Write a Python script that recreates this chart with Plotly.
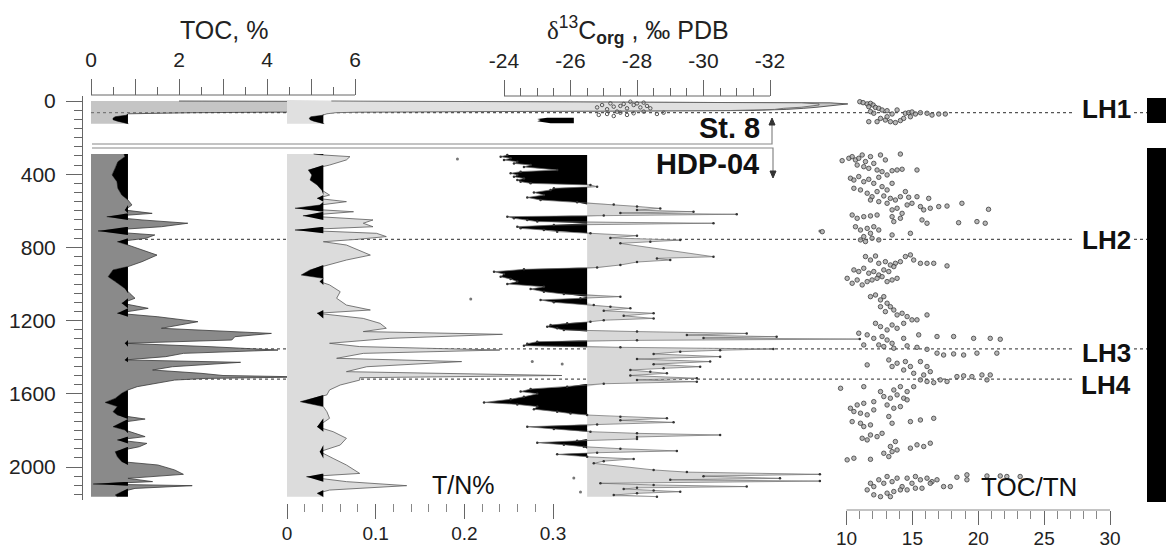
import plotly.graph_objects as go

W, H = 1166, 552

# ---------------- data (depth in cm) ----------------
# HDP-04 TOC, %
toc_depth = [290, 304, 332, 368, 404, 441, 477, 514, 541, 568,
             596, 614, 632, 650, 668, 687, 710, 732, 750, 769,
             787, 842, 878, 905, 923, 960, 987, 1024, 1051, 1078,
             1105, 1133, 1160, 1179, 1206, 1242, 1270, 1288, 1306, 1324,
             1343, 1361, 1379, 1397, 1415, 1428, 1452, 1470, 1488, 1500,
             1508, 1516, 1525, 1543, 1561, 1579, 1597, 1625, 1647, 1670,
             1698, 1716, 1738, 1756, 1780, 1798, 1816, 1834, 1852, 1871,
             1889, 1916, 1944, 1971, 1989, 2016, 2040, 2062, 2080, 2093,
             2102, 2117, 2135, 2153, 2162]
toc_vals = [0.75, 0.77, 0.61, 0.55, 0.48, 0.59, 0.61, 0.70, 0.84, 0.93,
            0.77, 1.39, 0.36, 1.16, 2.2, 1.6, 0.16, 1.45, 1.25, 0.6,
            0.84, 1.5, 1.16, 0.84, 0.5, 0.39, 0.55, 0.77, 0.88, 1.0,
            0.7, 1.3, 0.6, 1.52, 2.43, 1.6, 4.1, 3.27, 3.2, 0.77,
            2.75, 4.25, 2.1, 1.7, 0.77, 3.4, 1.85, 1.4, 2.5, 3.0,
            4.9, 2.6, 1.9, 1.5, 1.05, 0.84, 0.7, 0.55, 0.32, 0.6,
            0.5, 0.6, 1.23, 0.7, 0.5, 0.77, 1.0, 1.23, 0.6, 1.27,
            1.1, 0.55, 0.6, 0.7, 1.52, 1.9, 2.1, 0.84, 1.4, 0.05,
            2.3, 1.0, 0.7, 0.55, 0.6]
TOC_THR = 0.84

# HDP-04 T/N %
tn_depth = [290, 295, 304, 322, 350, 377, 404, 432, 459, 486,
            514, 532, 550, 568, 586, 605, 627, 650, 668, 687,
            705, 723, 741, 756, 769, 787, 842, 869, 896, 923,
            951, 969, 987, 1005, 1042, 1078, 1115, 1142, 1160, 1188,
            1215, 1242, 1260, 1275, 1297, 1324, 1342, 1361, 1379, 1406,
            1424, 1452, 1479, 1500, 1512, 1525, 1552, 1579, 1606, 1643,
            1670, 1698, 1734, 1780, 1807, 1843, 1880, 1916, 1953, 1989,
            2035, 2053, 2080, 2102, 2126, 2144, 2162]
tn_vals = [0.030, 0.041, 0.071, 0.067, 0.048, 0.024, 0.028, 0.026, 0.034, 0.039,
           0.048, 0.034, 0.067, 0.037, 0.009, 0.075, 0.018, 0.097, 0.086, 0.097,
           0.009, 0.101, 0.112, 0.079, 0.041, 0.067, 0.094, 0.067, 0.048, 0.026,
           0.016, 0.041, 0.037, 0.048, 0.060, 0.056, 0.067, 0.094, 0.034, 0.086,
           0.105, 0.112, 0.086, 0.243, 0.116, 0.048, 0.082, 0.240, 0.086, 0.056,
           0.197, 0.090, 0.067, 0.310, 0.082, 0.082, 0.060, 0.048, 0.045, 0.015,
           0.041, 0.045, 0.048, 0.034, 0.052, 0.067, 0.060, 0.037, 0.052, 0.067,
           0.082, 0.022, 0.067, 0.135, 0.048, 0.034, 0.041]
TN_THR = 0.041

# HDP-04 d13C org
d13c_depth = [295, 304, 313, 322, 332, 341, 350, 360, 377, 386,
              395, 404, 414, 423, 432, 441, 450, 459, 468, 477,
              486, 500, 514, 527, 541, 553, 565, 576, 587, 596,
              605, 612, 619, 625, 632, 641, 650, 659, 668, 678,
              687, 696, 705, 714, 723, 736, 748, 760, 769, 778,
              851, 860, 869, 880, 896, 910, 920, 933, 945, 960,
              973, 987, 1000, 1015, 1028, 1042, 1055, 1069, 1078, 1087,
              1100, 1115, 1124, 1133, 1146, 1160, 1174, 1188, 1198, 1206,
              1215, 1224, 1233, 1242, 1251, 1260, 1270, 1279, 1288, 1295,
              1301, 1308, 1315, 1326, 1337, 1346, 1355, 1362, 1370, 1382,
              1397, 1410, 1424, 1438, 1452, 1461, 1470, 1480, 1488, 1500,
              1515, 1524, 1534, 1545, 1561, 1574, 1588, 1600, 1616, 1630,
              1647, 1658, 1670, 1684, 1698, 1708, 1716, 1725, 1734, 1745,
              1756, 1768, 1780, 1792, 1807, 1816, 1825, 1836, 1847, 1857,
              1867, 1878, 1889, 1900, 1912, 1922, 1931, 1944, 1956, 1968,
              1980, 2016, 2028, 2040, 2050, 2062, 2070, 2077, 2089, 2098,
              2107, 2114, 2120, 2128, 2135, 2144, 2153, 2162]
d13c_vals = [-24.1, -23.9, -24.2, -24.0, -24.4, -24.3, -24.8, -24.6, -25.6, -24.5,
             -24.2, -24.4, -24.3, -24.6, -24.4, -24.5, -24.8, -26.6, -26.8, -25.5,
             -25.4, -24.9, -25.2, -24.7, -25.1, -26.2, -27.3, -28.0, -28.7, -28.0,
             -29.7, -27.5, -31.0, -27.0, -24.1, -24.3, -24.7, -25.0, -30.3, -25.5,
             -24.4, -24.5, -25.2, -25.6, -26.6, -28.0, -27.2, -29.3, -28.4, -27.5,
             -30.3, -28.6, -29.0, -28.0, -27.5, -26.8, -24.6, -23.7, -24.0, -23.9,
             -24.2, -24.4, -24.1, -25.2, -24.8, -25.2, -25.8, -27.5, -26.3, -25.1,
             -25.5, -26.7, -27.2, -27.8, -27.0, -28.5, -27.6, -28.5, -27.0, -26.6,
             -25.9, -25.4, -25.3, -25.6, -25.8, -28.0, -31.3, -29.5, -32.2, -30.0,
             -34.7, -28.0, -25.0, -24.7, -24.6, -27.5, -32.1, -30.5, -29.3, -28.5,
             -30.5, -28.0, -30.2, -28.5, -29.9, -28.8, -27.8, -28.4, -28.9, -27.8,
             -29.8, -28.0, -29.8, -27.0, -25.9, -24.8, -24.5, -25.0, -24.6, -24.2,
             -23.4, -24.4, -25.0, -24.9, -25.6, -26.0, -26.5, -27.5, -28.9, -27.5,
             -29.1, -26.8, -24.7, -25.5, -26.6, -28.0, -30.5, -28.0, -28.0, -26.2,
             -25.0, -25.8, -26.4, -27.5, -29.2, -26.8, -25.6, -26.5, -27.9, -27.0,
             -26.7, -28.5, -29.5, -33.5, -30.0, -32.3, -29.0, -33.5, -26.9, -28.5,
             -31.3, -28.0, -27.6, -28.5, -29.3, -28.0, -27.3, -28.6]
D13C_THR = -26.5
d13c_out_depth = [317, 710, 1082, 1424, 1437, 2060, 2136]
d13c_out_vals = [-22.6, -33.5, -23.0, -24.85, -25.75, -26.1, -26.3]

# St. 8 (upper core)
st8_depth = [0, 5, 10, 16, 22, 28, 34, 40, 46, 52, 57, 61, 64, 70, 78, 86, 94, 102, 110, 118, 124]
st8_toc = [2.0, 12.0, 16.8, 17.2, 17.0, 16.8, 16.5, 16.2, 15.8, 15.0, 4.3, 4.2, 2.3, 0.85, 0.8, 0.55, 0.5, 0.5, 0.6, 0.75, 0.85]
st8_tn = [0.05, 0.45, 0.58, 0.60, 0.60, 0.59, 0.58, 0.56, 0.55, 0.50, 0.12, 0.08, 0.055, 0.045, 0.040, 0.027, 0.025, 0.026, 0.030, 0.038, 0.042]
st8_d13c_depth = [35, 22, 45, 13, 31, 58, 27, 16, 40, 4, 22, 13, 35, 9, 27, 40, 76, 71, 82, 64, 76, 67, 58, 71, 64]
st8_d13c_vals = [-26.8, -26.95, -27.1, -27.2, -27.3, -27.4, -27.5, -27.6, -27.7, -27.8,
                 -27.9, -28.0, -28.1, -28.2, -28.3, -28.4, -26.85, -27.1, -27.3, -27.5,
                 -27.7, -27.9, -28.2, -28.6, -28.8]
st8_d13c_low_depth = [92, 98, 104, 110, 116, 122]
st8_d13c_low_vals = [-25.3, -25.0, -25.1, -25.0, -25.2, -25.4]
ST8_D13C_THR = -26.1
st8_tocn_depth = [4, 9, 16, 13, 22, 31, 35, 40, 49, 53, 58, 67, 113, 113, 104, 113, 118, 107,
                  67, 64, 60, 71, 64, 67, 77, 71, 71, 49, 71, 95, 86, 86, 95]
st8_tocn_ratio = [11.01, 11.26, 11.57, 11.82, 12.02, 11.69, 12.2, 12.45, 12.7, 13.08, 11.82, 12.07,
                  12.32, 11.69, 12.95, 13.33, 13.71, 14.09, 14.47, 14.72, 14.97, 15.23, 15.61, 16.11,
                  16.49, 17.0, 17.5, 13.84, 13.46, 14.34, 14.85, 13.08, 12.58]

# HDP-04 TOC/TN
tocn_depth = [326, 313, 304, 322, 313, 295, 331, 304, 341, 295,
              322, 290, 377, 350, 359, 368, 377, 386, 404, 381,
              377, 373, 422, 432, 413, 441, 428, 450, 417, 468,
              486, 450, 477, 486, 504, 523, 495, 519, 532, 541,
              523, 495, 526, 541, 550, 559, 595, 586, 614, 568,
              559, 523, 577, 595, 532, 586, 650, 668, 577, 574,
              559, 592, 632, 659, 641, 623, 641, 632, 628, 623,
              687, 705, 741, 696, 723, 687, 705, 759, 768, 750,
              759, 732, 723, 665, 659, 668, 714,
              850, 869, 847, 887, 878, 896, 887, 878, 850, 841,
              869, 887, 887, 887, 901, 923, 932, 914, 941, 932,
              951, 923, 932, 905, 969, 996, 978, 1005, 987, 978,
              969, 960, 987, 978, 969, 1069, 1060, 1087, 1069, 1105,
              1124, 1142, 1124, 1151, 1169, 1160, 1178, 1196, 1196, 1169,
              1215, 1233, 1251, 1224, 1242, 1215,
              1269, 1278, 1297, 1287, 1306, 1324, 1297, 1278, 1287, 1287,
              1297, 1297, 1302, 1333, 1333, 1342, 1351, 1338, 1346, 1357,
              1378, 1388, 1382, 1388, 1378, 1378, 1442, 1415, 1451, 1433,
              1424, 1451, 1424, 1451, 1488, 1497, 1479, 1470,
              1524, 1533, 1539, 1524, 1533, 1506, 1502, 1506, 1497, 1524,
              1497, 1570, 1561, 1588, 1579, 1561, 1588, 1561, 1615, 1624,
              1606, 1624, 1643, 1652, 1661, 1679, 1697, 1706, 1715, 1688,
              1661, 1679, 1670, 1633, 1752, 1761, 1779, 1770, 1724, 1761,
              1752, 1743, 1734, 1843, 1852, 1825, 1834, 1816, 1861, 1897,
              1879, 1888, 1870, 1961, 1952, 1958, 1925, 1943, 1916, 1907, 1888,
              2125, 2107, 2070, 2089, 2052, 2080, 2061, 2107, 2061, 2089,
              2052, 2070, 2061, 2080, 2070, 2152, 2162, 2143, 2134, 2125,
              2125, 2116, 2116, 2089, 2107, 2107, 2056, 2043, 2070, 2049,
              2049, 2052, 2052, 2089, 2162]
tocn_ratio = [9.67, 10.18, 10.43, 10.68, 10.93, 11.19, 11.44, 11.82, 12.07, 12.58,
              12.95, 14.09, 15.35, 10.81, 11.31, 11.69, 12.32, 12.7, 13.08, 13.46,
              13.84, 14.22, 10.3, 10.56, 10.93, 11.31, 11.69, 12.07, 12.45, 12.7,
              13.08, 13.46, 10.56, 11.06, 11.57, 11.94, 12.32, 12.83, 13.33, 13.71,
              14.09, 14.47, 14.72, 11.82, 12.45, 13.08, 13.46, 13.84, 14.22, 14.6,
              14.97, 15.35, 15.61, 15.86, 16.24, 16.36, 15.73, 16.11, 17.0, 17.63,
              18.76, 20.78, 13.46, 13.59, 14.09, 10.43, 10.81, 11.31, 11.82, 12.32,
              10.68, 11.06, 11.31, 11.57, 11.82, 12.07, 12.45, 11.06, 11.44, 11.94,
              12.45, 13.46, 14.85, 18.51, 19.9, 20.53, 8.16,
              11.44, 11.82, 12.2, 12.45, 12.95, 13.33, 13.71, 14.09, 14.47, 14.85,
              15.1, 15.61, 16.11, 16.62, 17.63, 10.56, 10.93, 11.31, 11.69, 12.07,
              12.45, 12.83, 13.21, 13.59, 10.05, 10.43, 10.81, 11.19, 11.57, 11.94,
              12.32, 12.7, 13.08, 13.46, 13.84, 11.82, 12.2, 12.58, 12.83, 13.08,
              13.33, 13.59, 12.58, 12.95, 13.84, 14.22, 14.6, 14.97, 15.35, 16.11,
              12.2, 12.58, 13.08, 13.46, 13.84, 14.34,
              10.93, 11.57, 12.07, 12.7, 13.08, 13.46, 14.34, 15.48, 16.87, 18.13,
              19.65, 20.91, 21.67, 11.31, 12.45, 12.83, 13.59, 14.6, 15.35, 16.11,
              16.87, 17.37, 18.13, 18.89, 19.9, 21.41, 11.57, 13.21, 13.46, 13.84,
              14.47, 14.85, 15.61, 16.11, 15.1, 15.86, 16.36, 14.34,
              15.61, 16.11, 16.62, 17.12, 17.63, 18.38, 18.89, 19.52, 20.28, 20.66,
              20.91, 9.55, 11.31, 12.58, 13.59, 14.09, 14.6, 15.1, 12.83, 13.33,
              13.84, 14.34, 12.07, 11.31, 10.81, 10.3, 10.56, 11.06, 11.57, 12.07,
              13.08, 13.59, 14.09, 14.6, 10.43, 11.06, 11.31, 11.82, 13.21, 13.46,
              14.85, 15.61, 16.62, 11.19, 11.57, 11.82, 12.32, 12.7, 13.71, 14.85,
              15.35, 15.86, 16.36, 10.05, 10.56, 11.82, 12.83, 13.21, 13.46, 13.84, 13.33,
              11.57, 12.07, 12.45, 12.83, 13.08, 13.46, 13.84, 14.22, 14.6, 14.97,
              15.23, 15.61, 16.11, 16.49, 16.87, 12.07, 12.58, 13.08, 13.59, 14.09,
              14.6, 15.23, 15.73, 16.36, 17.37, 17.88, 18.38, 19.14, 19.14, 20.66,
              21.67, 22.17, 23.18, 11.82, 13.33]

lh_depth = [64, 756, 1354, 1520]
lh_names = ["LH1", "LH2", "LH3", "LH4"]

assert len(toc_depth) == len(toc_vals)
assert len(tn_depth) == len(tn_vals)
assert len(d13c_depth) == len(d13c_vals)
assert len(tocn_depth) == len(tocn_ratio)
assert len(st8_tocn_depth) == len(st8_tocn_ratio)
assert len(st8_d13c_depth) == len(st8_d13c_vals)
assert len(st8_depth) == len(st8_toc) == len(st8_tn)

FONT = "Liberation Sans, Arial, Helvetica, sans-serif"


def thr_poly(depth, vals, thr, keep):
    xs = [min(v, thr) if keep == "low" else max(v, thr) for v in vals]
    return [thr] + xs + [thr], [depth[0]] + list(depth) + [depth[-1]]


fig = go.Figure()
fig.add_trace(go.Scatter(x=[None], y=[None], xaxis="x", yaxis="y", mode="markers"))

# ---- T/N (x3) ----
for dep, val, fillc in [(st8_depth, st8_tn, "#e0e0e0"), (tn_depth, tn_vals, "#dcdcdc")]:
    fig.add_trace(go.Scatter(x=val, y=dep, xaxis="x3", yaxis="y", mode="lines",
                             fill="tozerox", fillcolor=fillc,
                             line=dict(color="#5a5a5a", width=0.8)))
    px_, py_ = thr_poly(dep, val, TN_THR, "low")
    fig.add_trace(go.Scatter(x=px_, y=py_, xaxis="x3", yaxis="y", mode="lines",
                             fill="toself", fillcolor="#000000", line=dict(width=0)))

# ---- TOC (x2) ----
for dep, val, fillc in [(st8_depth, st8_toc, "rgba(150,150,150,0.55)"), (toc_depth, toc_vals, "#8a8a8a")]:
    fig.add_trace(go.Scatter(x=val, y=dep, xaxis="x2", yaxis="y", mode="lines",
                             fill="tozerox", fillcolor=fillc,
                             line=dict(color="#3a3a3a", width=0.8)))
    px_, py_ = thr_poly(dep, val, TOC_THR, "low")
    fig.add_trace(go.Scatter(x=px_, y=py_, xaxis="x2", yaxis="y", mode="lines",
                             fill="toself", fillcolor="#000000", line=dict(width=0)))

# ---- d13C (x4) ----
gx, gy = thr_poly(d13c_depth, d13c_vals, D13C_THR, "low")
fig.add_trace(go.Scatter(x=gx, y=gy, xaxis="x4", yaxis="y", mode="lines",
                         fill="toself", fillcolor="#d8d8d8", line=dict(width=0)))
bx, by = thr_poly(d13c_depth, d13c_vals, D13C_THR, "high")
fig.add_trace(go.Scatter(x=bx, y=by, xaxis="x4", yaxis="y", mode="lines",
                         fill="toself", fillcolor="#000000", line=dict(width=0)))
fig.add_trace(go.Scatter(x=d13c_vals, y=d13c_depth, xaxis="x4", yaxis="y", mode="lines+markers",
                         line=dict(color="#6a6a6a", width=0.7),
                         marker=dict(size=2.5, color="#333")))
fig.add_trace(go.Scatter(x=d13c_out_vals, y=d13c_out_depth, xaxis="x4", yaxis="y", mode="markers",
                         marker=dict(size=3, color="#777")))
lx, ly = thr_poly(st8_d13c_low_depth, st8_d13c_low_vals, ST8_D13C_THR, "high")
fig.add_trace(go.Scatter(x=lx, y=ly, xaxis="x4", yaxis="y", mode="lines",
                         fill="toself", fillcolor="#000000", line=dict(width=0)))
fig.add_trace(go.Scatter(x=st8_d13c_vals, y=st8_d13c_depth, xaxis="x4", yaxis="y", mode="markers",
                         marker=dict(size=3.5, color="#555", symbol="circle-open", line=dict(width=1))))

# ---- TOC/TN (x5) ----
fig.add_trace(go.Scatter(x=st8_tocn_ratio + tocn_ratio, y=st8_tocn_depth + tocn_depth,
                         xaxis="x5", yaxis="y", mode="markers",
                         marker=dict(size=4.5, color="rgba(160,160,160,0.75)",
                                     line=dict(color="#3c3c3c", width=0.8))))

# ---------------- axes ----------------
x0d = 83 / W
tick_font = dict(family=FONT, size=21, color="#222")
tick_font_b = dict(family=FONT, size=19, color="#222")


def pos(py):
    return 1 - py / H


def lin_range(v0, p0, v1, p1):
    s = (p1 - p0) / (v1 - v0)
    return [v0 + (83 - p0) / s, v0 + (W - p0) / s]


common = dict(overlaying="x", anchor="free", showgrid=False, zeroline=False, showline=False,
              ticks="outside", tickcolor="#666", tickwidth=1, tickfont=tick_font,
              tickmode="array", automargin=False)

toc_ticks = [0, 2, 4, 6]
toc_odd = [1, 3, 5]
toc_minor = [0.5, 1.5, 2.5, 3.5, 4.5, 5.5]
d13c_ticks = [-24, -26, -28, -30, -32]
d13c_minor = [-24.5, -25, -25.5, -26.5, -27, -27.5, -28.5, -29, -29.5, -30.5, -31, -31.5]
tn_ticks = [0, 0.1, 0.2, 0.3]
tn_minor = [0.02, 0.04, 0.06, 0.08, 0.12, 0.14, 0.16, 0.18, 0.22, 0.24, 0.26, 0.28]
tocn_ticks = [10, 15, 20, 25, 30]
tocn_minor = [v for v in range(11, 30) if v % 5]
depth_ticks = [0, 400, 800, 1200, 1600, 2000]
depth_minor = [v for v in range(50, 2200, 50) if v % 400]

toc_range = lin_range(0, 91, 6, 355)

fig.update_layout(
    template="none",
    width=W, height=H, margin=dict(l=0, r=0, t=0, b=0, pad=0), autosize=False,
    paper_bgcolor="white", plot_bgcolor="white", showlegend=False,
    hovermode=False,
    xaxis=dict(domain=[x0d, 1], range=[0, 1], visible=False, anchor="y", automargin=False),
    xaxis2=dict(common, position=pos(95), side="top", range=toc_range,
                tickvals=toc_ticks, ticktext=[str(v) for v in toc_ticks], ticklen=16,
                ticklabelstandoff=4,
                minor=dict(tickvals=toc_minor, ticklen=8, ticks="outside", tickcolor="#666")),
    xaxis6=dict(common, position=pos(95), side="top", range=toc_range,
                tickvals=toc_odd, ticklen=16, showticklabels=False),
    xaxis3=dict(common, position=pos(503), side="bottom", range=lin_range(0, 287, 0.3, 553),
                tickvals=tn_ticks, ticktext=["0", "0.1", "0.2", "0.3"], ticklen=15,
                ticklabelstandoff=-2, tickfont=tick_font_b,
                minor=dict(tickvals=tn_minor, ticklen=8, ticks="outside", tickcolor="#888")),
    xaxis4=dict(common, position=pos(96), side="top", range=lin_range(-24, 504, -32, 770),
                tickvals=d13c_ticks, ticktext=[str(v) for v in d13c_ticks], ticklen=16,
                ticklabelstandoff=4,
                minor=dict(tickvals=d13c_minor, ticklen=8, ticks="outside", tickcolor="#666")),
    xaxis5=dict(common, position=pos(510), side="bottom", range=lin_range(10, 846.5, 30, 1110),
                tickvals=tocn_ticks, ticktext=[str(v) for v in tocn_ticks], ticklen=14,
                ticklabelstandoff=-3, tickfont=tick_font_b,
                minor=dict(tickvals=tocn_minor, ticklen=8, ticks="outside", tickcolor="#888")),
    yaxis=dict(domain=[pos(500), pos(96)], range=[(500 - 101) / 0.183, (96 - 101) / 0.183],
               anchor="x", showgrid=False, zeroline=False, showline=True, linecolor="#666",
               ticks="outside", ticklen=16, tickcolor="#666", tickfont=tick_font,
               tickmode="array", tickvals=depth_ticks, ticktext=[str(v) for v in depth_ticks],
               ticklabelstandoff=6, automargin=False,
               minor=dict(tickvals=depth_minor, ticklen=8, ticks="outside", tickcolor="#666")),
)
# dummy trace so the odd-tick TOC axis is drawn
fig.add_trace(go.Scatter(x=[None], y=[None], xaxis="x6", yaxis="y", mode="markers"))

shapes = []
# axis base lines
shapes.append(dict(type="line", xref="x2", yref="paper", x0=0, x1=6, y0=pos(95), y1=pos(95),
                   line=dict(color="#666", width=1)))
shapes.append(dict(type="line", xref="x4", yref="paper", x0=-24, x1=-32, y0=pos(96), y1=pos(96),
                   line=dict(color="#666", width=1)))
shapes.append(dict(type="line", xref="x5", yref="paper", x0=10, x1=30, y0=pos(510), y1=pos(510),
                   line=dict(color="#888", width=1)))
# LH horizons
for d in lh_depth:
    shapes.append(dict(type="line", xref="paper", yref="y", x0=91 / W, x1=1075 / W, y0=d, y1=d,
                       line=dict(color="#555", width=1.2, dash="dot"), layer="below"))
for d in lh_depth[:3]:
    shapes.append(dict(type="line", xref="paper", yref="y", x0=1134 / W, x1=1147 / W, y0=d, y1=d,
                       line=dict(color="#555", width=1.2, dash="dot")))
# core separation lines with arrows
shapes.append(dict(type="path", xref="paper", yref="paper",
                   path=f"M {92 / W},{pos(144)} L {772 / W},{pos(144)} L {772 / W},{pos(124)}",
                   line=dict(color="#888", width=1.2)))
shapes.append(dict(type="path", xref="paper", yref="paper",
                   path=f"M {92 / W},{pos(148)} L {773 / W},{pos(148)} L {773 / W},{pos(172)}",
                   line=dict(color="#888", width=1.2)))
shapes.append(dict(type="path", xref="paper", yref="paper",
                   path=f"M {769 / W},{pos(125)} L {775 / W},{pos(125)} L {772 / W},{pos(118)} Z",
                   fillcolor="#333", line=dict(color="#333", width=1)))
shapes.append(dict(type="path", xref="paper", yref="paper",
                   path=f"M {770 / W},{pos(171)} L {776 / W},{pos(171)} L {773 / W},{pos(178)} Z",
                   fillcolor="#333", line=dict(color="#333", width=1)))
# core bars
shapes.append(dict(type="rect", xref="paper", yref="paper", x0=1147 / W, x1=1, y0=pos(123), y1=pos(98),
                   fillcolor="black", line=dict(width=0)))
shapes.append(dict(type="rect", xref="paper", yref="paper", x0=1147 / W, x1=1, y0=pos(502), y1=pos(148),
                   fillcolor="black", line=dict(width=0)))
fig.update_layout(shapes=shapes)


def label(text, px, py, size, color="#111"):
    return dict(text=text, x=px / W, y=pos(py), xref="paper", yref="paper", showarrow=False,
                xanchor="center", yanchor="middle", font=dict(family=FONT, size=size, color=color))


ann = [
    label("TOC, %", 224, 30, 25, "#222"),
    label("<span style='font-family:Liberation Serif'>δ</span><sup>13</sup>C<sub><b>org</b></sub> , ‰ PDB",
          638, 30, 25, "#222"),
    label("T/N%", 463, 485, 25),
    label("TOC/TN", 1029, 487, 26),
    label("<b>St. 8</b>", 729, 128, 29),
    label("<b>HDP-04</b>", 707, 164, 29),
]
lab_py = [109, 240, 353, 385]
for name, py in zip(lh_names, lab_py):
    ann.append(label("<b>" + name + "</b>", 1106, py, 26))
fig.update_layout(annotations=ann)

fig.write_html("out.html", config={"displayModeBar": False},
               post_script="document.body.style.margin='0px';document.body.style.overflow='hidden';")
